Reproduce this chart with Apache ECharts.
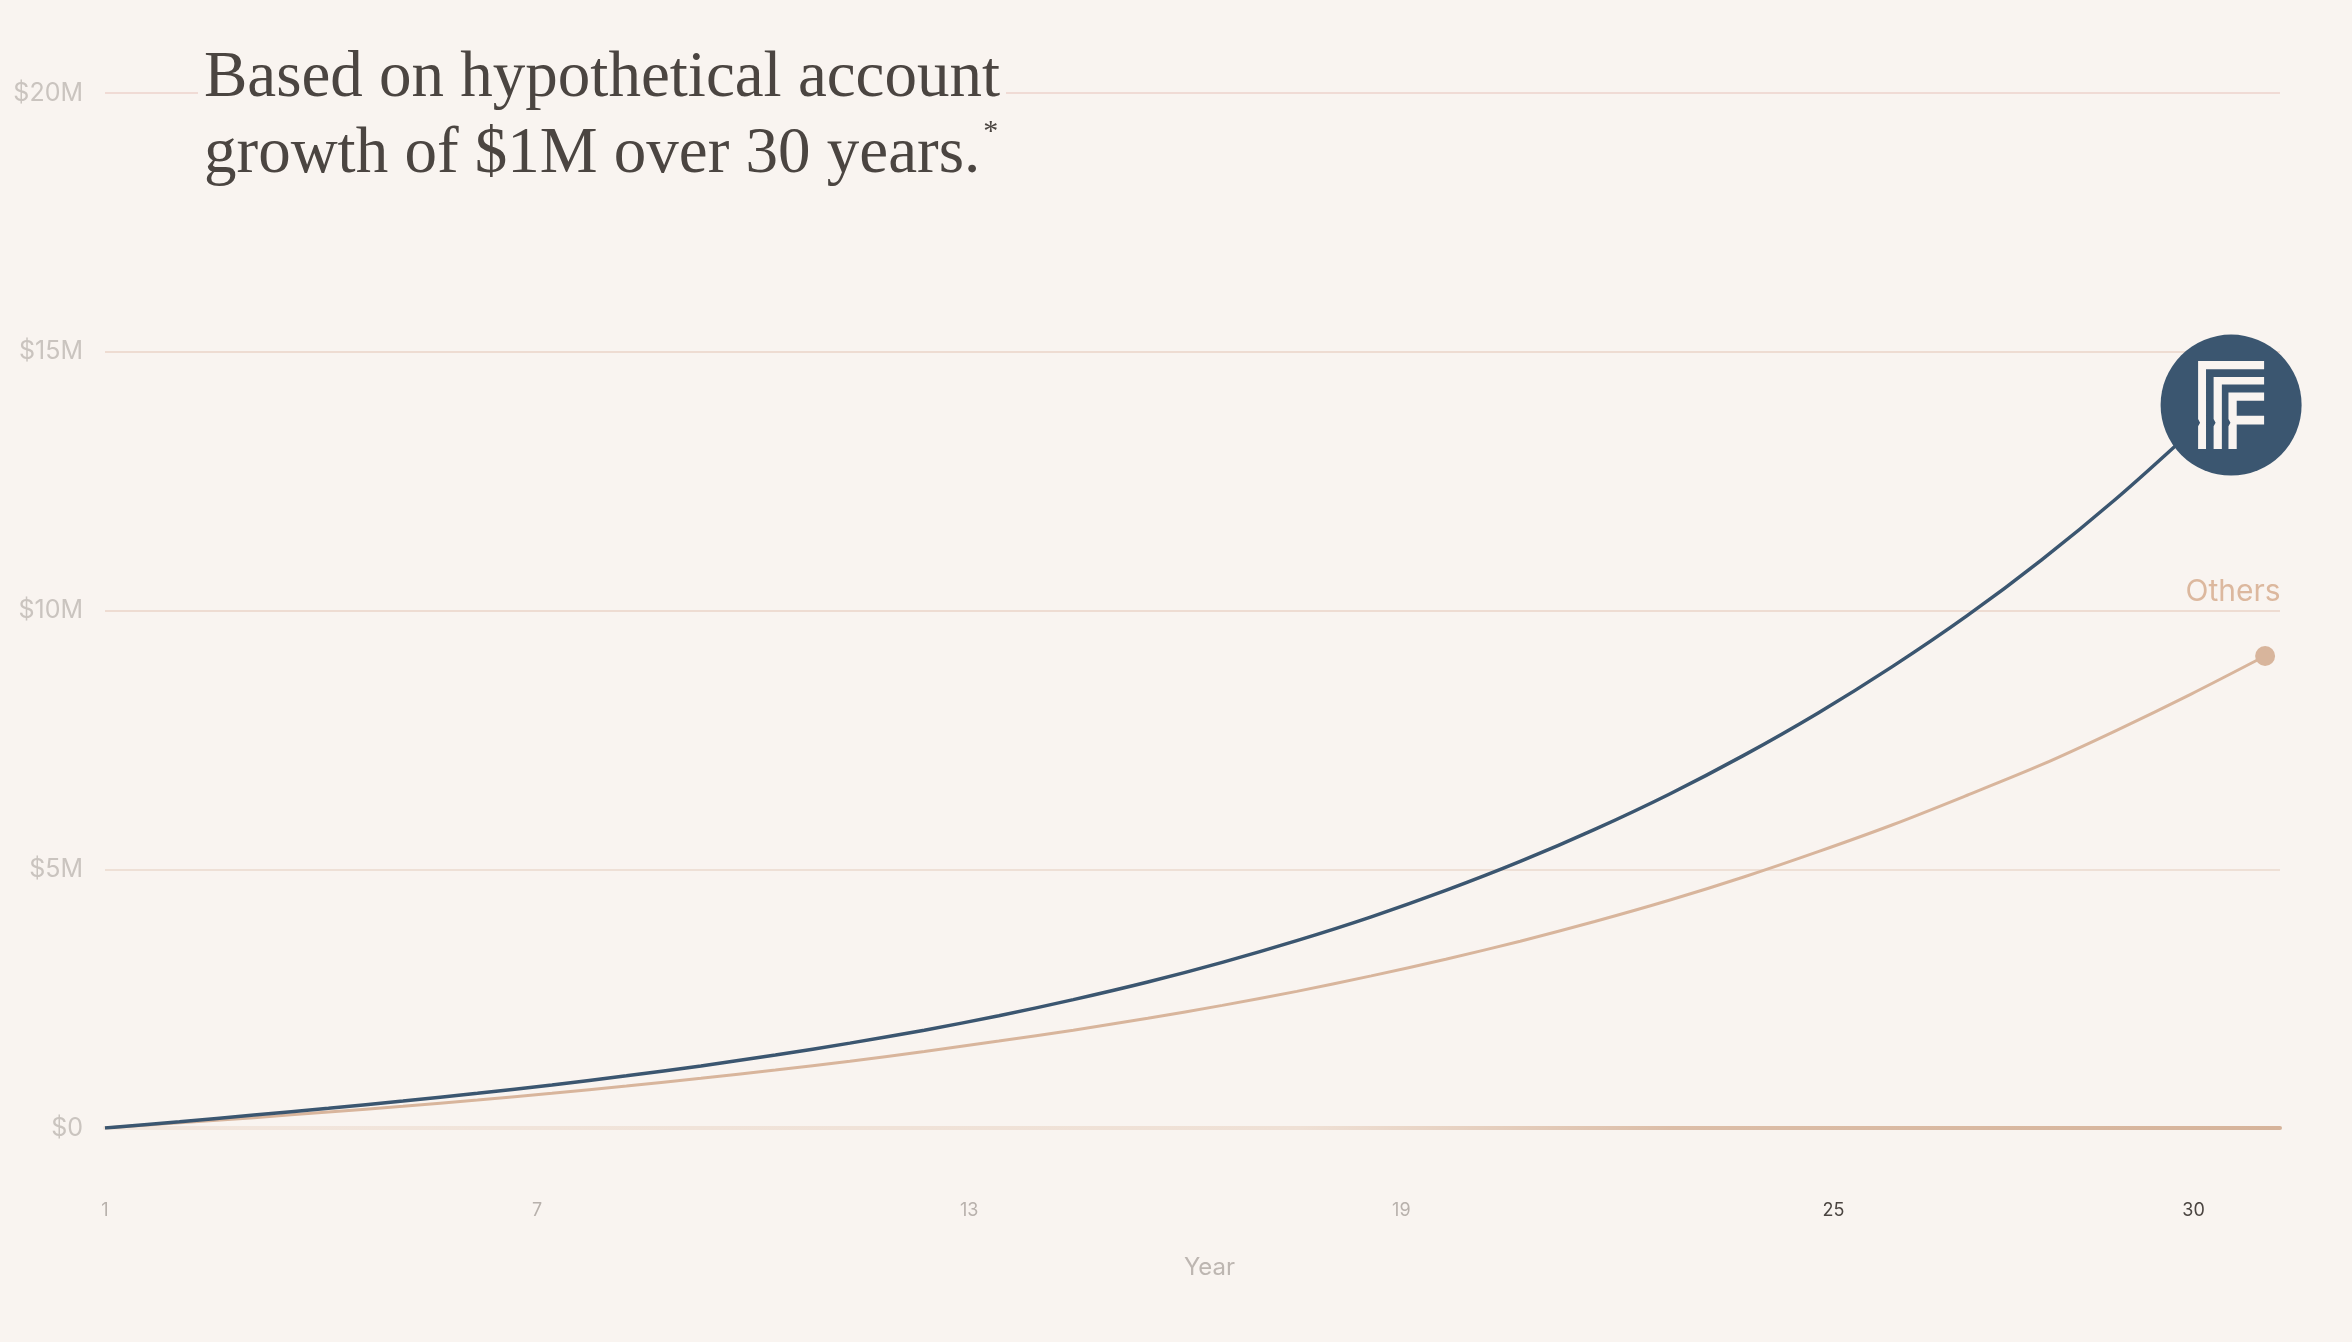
<!DOCTYPE html>
<html>
<head>
<meta charset="utf-8">
<title>Account growth</title>
<script src="https://cdn.jsdelivr.net/npm/echarts@6/dist/echarts.min.js"></script>
<style>
  html, body { margin: 0; padding: 0; background: #f9f4f0; }
  #chart { width: 2352px; height: 1342px; }
</style>
</head>
<body>
<div id="chart"></div>
<script>
// years along the x axis
var years = [1, 2, 3, 4, 5, 6, 7, 8, 9, 10, 11, 12, 13, 14, 15, 16, 17, 18, 19, 20, 21, 22, 23, 24, 25, 26, 27, 28, 29, 30];
// account growth in $M
var ours = [0, 0.12, 0.25, 0.38, 0.52, 0.67, 0.83, 1.01, 1.20, 1.41, 1.64, 1.89, 2.17, 2.48, 2.82, 3.20, 3.62, 4.08, 4.59, 5.15, 5.77, 6.45, 7.20, 8.02, 8.92, 9.90, 10.98, 12.16, 13.45, 14.8];
var others = [0, 0.10, 0.20, 0.31, 0.42, 0.54, 0.67, 0.81, 0.96, 1.12, 1.29, 1.48, 1.68, 1.89, 2.12, 2.37, 2.64, 2.94, 3.26, 3.61, 3.99, 4.40, 4.85, 5.34, 5.86, 6.43, 7.02, 7.68, 8.38, 9.12];
var yearTicks = [1, 7, 13, 19, 25, 30];
var highlightedTicks = [25, 30];
var seriesNames = ['Ours', 'Others'];

var BLUE = '#3b5670';
var TAN = '#d8b59c';
var BG = '#f9f4f0';

// logo: three nested bars
var logoPath = 'path://M0 0H200V25H24V266H0V197L6 186L0 175Z' +
  'M47 48H200V71H72V266H47V197L53 186L47 175Z' +
  'M92 95H200V120H117V165H200V192H117V266H92V197L98 186L92 175Z';

function pairs(xs, ys) {
  return xs.map(function (x, i) { return [x, ys[i]]; });
}

var chart = echarts.init(document.getElementById('chart'));
var last = years.length - 1;

chart.setOption({
  backgroundColor: BG,
  animation: false,
  title: {
    left: 198,
    top: 41,
    padding: [0, 6],
    backgroundColor: BG,
    text: '{t|Based on hypothetical account}\n{t|growth of $1M over 30 years.}{s|*}',
    textStyle: {
      rich: {
        t: { fontFamily: 'Liberation Serif', fontWeight: 'normal', fontSize: 65, lineHeight: 76, color: '#4b4541' },
        s: { fontFamily: 'Liberation Serif', fontWeight: 'normal', fontSize: 30, lineHeight: 76, color: '#4b4541', verticalAlign: 'top', padding: [0, 0, 0, 3] }
      }
    }
  },
  grid: { left: 105, right: 72, top: 93, bottom: 214 },
  xAxis: [
    {
      // data axis: carries the lines and the baseline
      type: 'value',
      min: 1,
      max: 30.2,
      name: 'Year',
      nameLocation: 'middle',
      nameGap: 128,
      nameTextStyle: { fontFamily: 'Inter', fontSize: 24, color: '#bdb6b1', padding: [0, 0, 0, 34] },
      axisLine: {
        show: true,
        lineStyle: {
          width: 4,
          color: {
            type: 'linear', x: 0, y: 0, x2: 1, y2: 0,
            colorStops: [
              { offset: 0, color: '#f2e6dd' },
              { offset: 0.55, color: '#efe0d5' },
              { offset: 0.72, color: '#dcbda7' },
              { offset: 1, color: '#d6b39a' }
            ]
          }
        }
      },
      axisTick: { show: false },
      splitLine: { show: false },
      axisLabel: { show: false }
    },
    {
      // label row under the chart
      type: 'value',
      position: 'bottom',
      min: 1,
      max: 31.2,
      axisLine: { show: false },
      axisTick: { show: false },
      splitLine: { show: false },
      axisLabel: {
        customValues: yearTicks,
        margin: 74,
        fontFamily: 'Inter',
        fontSize: 18,
        color: function (v) {
          return highlightedTicks.indexOf(Number(v)) >= 0 ? '#4b4541' : '#b8b1ac';
        }
      }
    }
  ],
  yAxis: {
    type: 'value',
    min: 0,
    max: 20,
    interval: 5,
    axisLine: { show: false },
    axisTick: { show: false },
    splitLine: {
      lineStyle: { width: 2, color: ['rgba(0,0,0,0)', '#eee0d6', '#eedcd2', '#eedcd2', '#f0dbd5'] }
    },
    axisLabel: {
      margin: 22,
      fontFamily: 'Inter',
      fontSize: 25,
      color: '#cac4bf',
      formatter: function (v) { return v === 0 ? '$0' : '$' + v + 'M'; }
    }
  },
  series: [
    {
      name: seriesNames[1],
      type: 'line',
      smooth: 0.3,
      symbol: 'none',
      z: 2,
      lineStyle: { color: TAN, width: 3 },
      data: pairs(years, others),
      markPoint: {
        silent: true,
        data: [{
          coord: [years[last], others[last]],
          symbol: 'circle',
          symbolSize: 20,
          itemStyle: { color: TAN },
          label: {
            show: true,
            formatter: seriesNames[1],
            position: 'top',
            distance: 0,
            offset: [-32, -39],
            fontFamily: 'Inter',
            fontSize: 30,
            color: '#dcb89e'
          }
        }]
      }
    },
    {
      name: seriesNames[0],
      type: 'line',
      smooth: 0.3,
      symbol: 'none',
      z: 3,
      lineStyle: { color: BLUE, width: 3.5 },
      data: pairs(years, ours),
      markPoint: {
        silent: true,
        label: { show: false },
        data: [
          {
            coord: [years[last], ours[last]],
            symbol: 'circle',
            symbolSize: 141,
            symbolOffset: [-34, 43],
            itemStyle: { color: BLUE }
          },
          {
            coord: [years[last], ours[last]],
            symbol: logoPath,
            symbolSize: [66, 88],
            symbolOffset: [-34, 43],
            itemStyle: { color: BG }
          }
        ]
      }
    }
  ]
});
</script>
</body>
</html>
